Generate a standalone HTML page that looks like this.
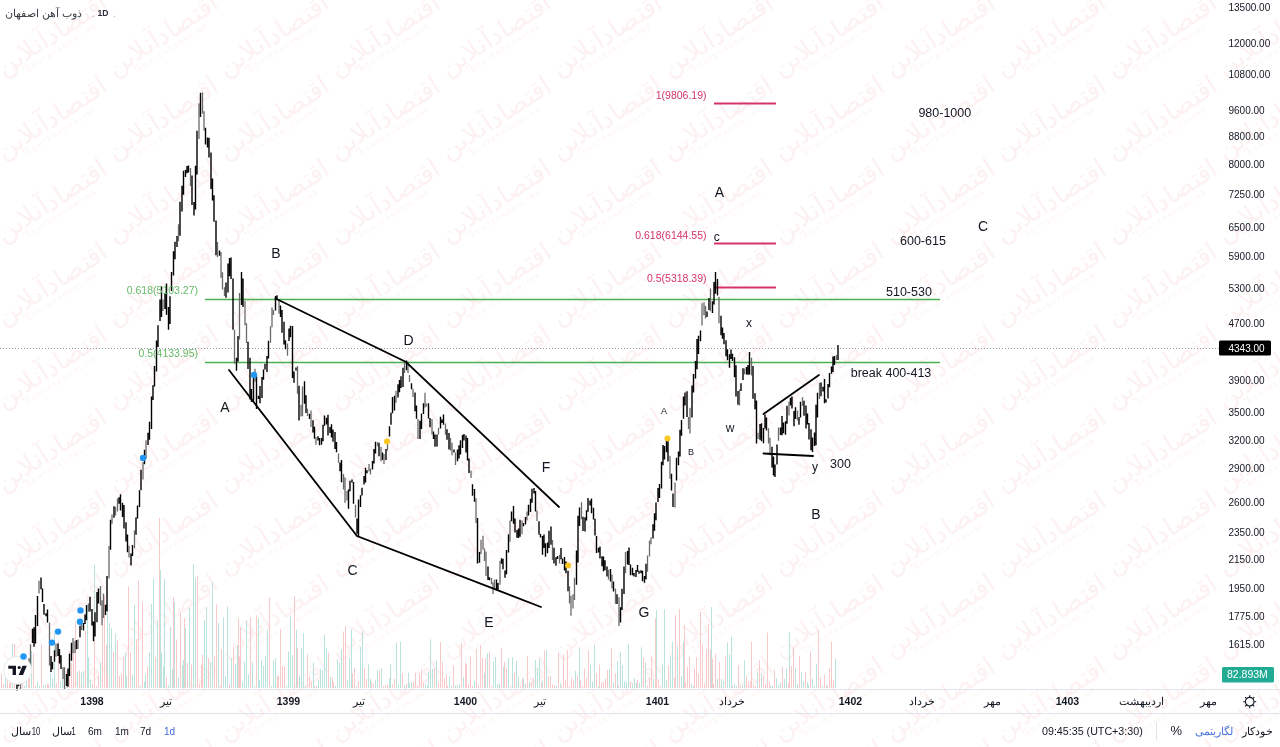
<!DOCTYPE html>
<html><head><meta charset="utf-8">
<style>
html,body{margin:0;padding:0;background:#fff;}
body{width:1280px;height:747px;overflow:hidden;position:relative;font-family:"Liberation Sans",sans-serif;}
svg{position:absolute;left:0;top:0;}
text{font-family:"Liberation Sans",sans-serif;}
</style></head><body>
<svg width="1280" height="747" viewBox="0 0 1280 747">

<rect width="1280" height="747" fill="#fff"/>
<g opacity="0.18" fill="#f2b0b0"><g transform="translate(-55,-41) rotate(-33)"><text x="0" y="0" font-size="26" text-anchor="middle">اقتصادآنلاین</text><text x="2" y="10" font-size="6.5" letter-spacing="1.6" text-anchor="middle">EGHTESADONLINE</text></g><g transform="translate(56,-41) rotate(-33)"><text x="0" y="0" font-size="26" text-anchor="middle">اقتصادآنلاین</text><text x="2" y="10" font-size="6.5" letter-spacing="1.6" text-anchor="middle">EGHTESADONLINE</text></g><g transform="translate(167,-41) rotate(-33)"><text x="0" y="0" font-size="26" text-anchor="middle">اقتصادآنلاین</text><text x="2" y="10" font-size="6.5" letter-spacing="1.6" text-anchor="middle">EGHTESADONLINE</text></g><g transform="translate(278,-41) rotate(-33)"><text x="0" y="0" font-size="26" text-anchor="middle">اقتصادآنلاین</text><text x="2" y="10" font-size="6.5" letter-spacing="1.6" text-anchor="middle">EGHTESADONLINE</text></g><g transform="translate(389,-41) rotate(-33)"><text x="0" y="0" font-size="26" text-anchor="middle">اقتصادآنلاین</text><text x="2" y="10" font-size="6.5" letter-spacing="1.6" text-anchor="middle">EGHTESADONLINE</text></g><g transform="translate(500,-41) rotate(-33)"><text x="0" y="0" font-size="26" text-anchor="middle">اقتصادآنلاین</text><text x="2" y="10" font-size="6.5" letter-spacing="1.6" text-anchor="middle">EGHTESADONLINE</text></g><g transform="translate(611,-41) rotate(-33)"><text x="0" y="0" font-size="26" text-anchor="middle">اقتصادآنلاین</text><text x="2" y="10" font-size="6.5" letter-spacing="1.6" text-anchor="middle">EGHTESADONLINE</text></g><g transform="translate(722,-41) rotate(-33)"><text x="0" y="0" font-size="26" text-anchor="middle">اقتصادآنلاین</text><text x="2" y="10" font-size="6.5" letter-spacing="1.6" text-anchor="middle">EGHTESADONLINE</text></g><g transform="translate(833,-41) rotate(-33)"><text x="0" y="0" font-size="26" text-anchor="middle">اقتصادآنلاین</text><text x="2" y="10" font-size="6.5" letter-spacing="1.6" text-anchor="middle">EGHTESADONLINE</text></g><g transform="translate(944,-41) rotate(-33)"><text x="0" y="0" font-size="26" text-anchor="middle">اقتصادآنلاین</text><text x="2" y="10" font-size="6.5" letter-spacing="1.6" text-anchor="middle">EGHTESADONLINE</text></g><g transform="translate(1055,-41) rotate(-33)"><text x="0" y="0" font-size="26" text-anchor="middle">اقتصادآنلاین</text><text x="2" y="10" font-size="6.5" letter-spacing="1.6" text-anchor="middle">EGHTESADONLINE</text></g><g transform="translate(1166,-41) rotate(-33)"><text x="0" y="0" font-size="26" text-anchor="middle">اقتصادآنلاین</text><text x="2" y="10" font-size="6.5" letter-spacing="1.6" text-anchor="middle">EGHTESADONLINE</text></g><g transform="translate(1277,-41) rotate(-33)"><text x="0" y="0" font-size="26" text-anchor="middle">اقتصادآنلاین</text><text x="2" y="10" font-size="6.5" letter-spacing="1.6" text-anchor="middle">EGHTESADONLINE</text></g><g transform="translate(-55,42) rotate(-33)"><text x="0" y="0" font-size="26" text-anchor="middle">اقتصادآنلاین</text><text x="2" y="10" font-size="6.5" letter-spacing="1.6" text-anchor="middle">EGHTESADONLINE</text></g><g transform="translate(56,42) rotate(-33)"><text x="0" y="0" font-size="26" text-anchor="middle">اقتصادآنلاین</text><text x="2" y="10" font-size="6.5" letter-spacing="1.6" text-anchor="middle">EGHTESADONLINE</text></g><g transform="translate(167,42) rotate(-33)"><text x="0" y="0" font-size="26" text-anchor="middle">اقتصادآنلاین</text><text x="2" y="10" font-size="6.5" letter-spacing="1.6" text-anchor="middle">EGHTESADONLINE</text></g><g transform="translate(278,42) rotate(-33)"><text x="0" y="0" font-size="26" text-anchor="middle">اقتصادآنلاین</text><text x="2" y="10" font-size="6.5" letter-spacing="1.6" text-anchor="middle">EGHTESADONLINE</text></g><g transform="translate(389,42) rotate(-33)"><text x="0" y="0" font-size="26" text-anchor="middle">اقتصادآنلاین</text><text x="2" y="10" font-size="6.5" letter-spacing="1.6" text-anchor="middle">EGHTESADONLINE</text></g><g transform="translate(500,42) rotate(-33)"><text x="0" y="0" font-size="26" text-anchor="middle">اقتصادآنلاین</text><text x="2" y="10" font-size="6.5" letter-spacing="1.6" text-anchor="middle">EGHTESADONLINE</text></g><g transform="translate(611,42) rotate(-33)"><text x="0" y="0" font-size="26" text-anchor="middle">اقتصادآنلاین</text><text x="2" y="10" font-size="6.5" letter-spacing="1.6" text-anchor="middle">EGHTESADONLINE</text></g><g transform="translate(722,42) rotate(-33)"><text x="0" y="0" font-size="26" text-anchor="middle">اقتصادآنلاین</text><text x="2" y="10" font-size="6.5" letter-spacing="1.6" text-anchor="middle">EGHTESADONLINE</text></g><g transform="translate(833,42) rotate(-33)"><text x="0" y="0" font-size="26" text-anchor="middle">اقتصادآنلاین</text><text x="2" y="10" font-size="6.5" letter-spacing="1.6" text-anchor="middle">EGHTESADONLINE</text></g><g transform="translate(944,42) rotate(-33)"><text x="0" y="0" font-size="26" text-anchor="middle">اقتصادآنلاین</text><text x="2" y="10" font-size="6.5" letter-spacing="1.6" text-anchor="middle">EGHTESADONLINE</text></g><g transform="translate(1055,42) rotate(-33)"><text x="0" y="0" font-size="26" text-anchor="middle">اقتصادآنلاین</text><text x="2" y="10" font-size="6.5" letter-spacing="1.6" text-anchor="middle">EGHTESADONLINE</text></g><g transform="translate(1166,42) rotate(-33)"><text x="0" y="0" font-size="26" text-anchor="middle">اقتصادآنلاین</text><text x="2" y="10" font-size="6.5" letter-spacing="1.6" text-anchor="middle">EGHTESADONLINE</text></g><g transform="translate(1277,42) rotate(-33)"><text x="0" y="0" font-size="26" text-anchor="middle">اقتصادآنلاین</text><text x="2" y="10" font-size="6.5" letter-spacing="1.6" text-anchor="middle">EGHTESADONLINE</text></g><g transform="translate(-55,125) rotate(-33)"><text x="0" y="0" font-size="26" text-anchor="middle">اقتصادآنلاین</text><text x="2" y="10" font-size="6.5" letter-spacing="1.6" text-anchor="middle">EGHTESADONLINE</text></g><g transform="translate(56,125) rotate(-33)"><text x="0" y="0" font-size="26" text-anchor="middle">اقتصادآنلاین</text><text x="2" y="10" font-size="6.5" letter-spacing="1.6" text-anchor="middle">EGHTESADONLINE</text></g><g transform="translate(167,125) rotate(-33)"><text x="0" y="0" font-size="26" text-anchor="middle">اقتصادآنلاین</text><text x="2" y="10" font-size="6.5" letter-spacing="1.6" text-anchor="middle">EGHTESADONLINE</text></g><g transform="translate(278,125) rotate(-33)"><text x="0" y="0" font-size="26" text-anchor="middle">اقتصادآنلاین</text><text x="2" y="10" font-size="6.5" letter-spacing="1.6" text-anchor="middle">EGHTESADONLINE</text></g><g transform="translate(389,125) rotate(-33)"><text x="0" y="0" font-size="26" text-anchor="middle">اقتصادآنلاین</text><text x="2" y="10" font-size="6.5" letter-spacing="1.6" text-anchor="middle">EGHTESADONLINE</text></g><g transform="translate(500,125) rotate(-33)"><text x="0" y="0" font-size="26" text-anchor="middle">اقتصادآنلاین</text><text x="2" y="10" font-size="6.5" letter-spacing="1.6" text-anchor="middle">EGHTESADONLINE</text></g><g transform="translate(611,125) rotate(-33)"><text x="0" y="0" font-size="26" text-anchor="middle">اقتصادآنلاین</text><text x="2" y="10" font-size="6.5" letter-spacing="1.6" text-anchor="middle">EGHTESADONLINE</text></g><g transform="translate(722,125) rotate(-33)"><text x="0" y="0" font-size="26" text-anchor="middle">اقتصادآنلاین</text><text x="2" y="10" font-size="6.5" letter-spacing="1.6" text-anchor="middle">EGHTESADONLINE</text></g><g transform="translate(833,125) rotate(-33)"><text x="0" y="0" font-size="26" text-anchor="middle">اقتصادآنلاین</text><text x="2" y="10" font-size="6.5" letter-spacing="1.6" text-anchor="middle">EGHTESADONLINE</text></g><g transform="translate(944,125) rotate(-33)"><text x="0" y="0" font-size="26" text-anchor="middle">اقتصادآنلاین</text><text x="2" y="10" font-size="6.5" letter-spacing="1.6" text-anchor="middle">EGHTESADONLINE</text></g><g transform="translate(1055,125) rotate(-33)"><text x="0" y="0" font-size="26" text-anchor="middle">اقتصادآنلاین</text><text x="2" y="10" font-size="6.5" letter-spacing="1.6" text-anchor="middle">EGHTESADONLINE</text></g><g transform="translate(1166,125) rotate(-33)"><text x="0" y="0" font-size="26" text-anchor="middle">اقتصادآنلاین</text><text x="2" y="10" font-size="6.5" letter-spacing="1.6" text-anchor="middle">EGHTESADONLINE</text></g><g transform="translate(1277,125) rotate(-33)"><text x="0" y="0" font-size="26" text-anchor="middle">اقتصادآنلاین</text><text x="2" y="10" font-size="6.5" letter-spacing="1.6" text-anchor="middle">EGHTESADONLINE</text></g><g transform="translate(-55,208) rotate(-33)"><text x="0" y="0" font-size="26" text-anchor="middle">اقتصادآنلاین</text><text x="2" y="10" font-size="6.5" letter-spacing="1.6" text-anchor="middle">EGHTESADONLINE</text></g><g transform="translate(56,208) rotate(-33)"><text x="0" y="0" font-size="26" text-anchor="middle">اقتصادآنلاین</text><text x="2" y="10" font-size="6.5" letter-spacing="1.6" text-anchor="middle">EGHTESADONLINE</text></g><g transform="translate(167,208) rotate(-33)"><text x="0" y="0" font-size="26" text-anchor="middle">اقتصادآنلاین</text><text x="2" y="10" font-size="6.5" letter-spacing="1.6" text-anchor="middle">EGHTESADONLINE</text></g><g transform="translate(278,208) rotate(-33)"><text x="0" y="0" font-size="26" text-anchor="middle">اقتصادآنلاین</text><text x="2" y="10" font-size="6.5" letter-spacing="1.6" text-anchor="middle">EGHTESADONLINE</text></g><g transform="translate(389,208) rotate(-33)"><text x="0" y="0" font-size="26" text-anchor="middle">اقتصادآنلاین</text><text x="2" y="10" font-size="6.5" letter-spacing="1.6" text-anchor="middle">EGHTESADONLINE</text></g><g transform="translate(500,208) rotate(-33)"><text x="0" y="0" font-size="26" text-anchor="middle">اقتصادآنلاین</text><text x="2" y="10" font-size="6.5" letter-spacing="1.6" text-anchor="middle">EGHTESADONLINE</text></g><g transform="translate(611,208) rotate(-33)"><text x="0" y="0" font-size="26" text-anchor="middle">اقتصادآنلاین</text><text x="2" y="10" font-size="6.5" letter-spacing="1.6" text-anchor="middle">EGHTESADONLINE</text></g><g transform="translate(722,208) rotate(-33)"><text x="0" y="0" font-size="26" text-anchor="middle">اقتصادآنلاین</text><text x="2" y="10" font-size="6.5" letter-spacing="1.6" text-anchor="middle">EGHTESADONLINE</text></g><g transform="translate(833,208) rotate(-33)"><text x="0" y="0" font-size="26" text-anchor="middle">اقتصادآنلاین</text><text x="2" y="10" font-size="6.5" letter-spacing="1.6" text-anchor="middle">EGHTESADONLINE</text></g><g transform="translate(944,208) rotate(-33)"><text x="0" y="0" font-size="26" text-anchor="middle">اقتصادآنلاین</text><text x="2" y="10" font-size="6.5" letter-spacing="1.6" text-anchor="middle">EGHTESADONLINE</text></g><g transform="translate(1055,208) rotate(-33)"><text x="0" y="0" font-size="26" text-anchor="middle">اقتصادآنلاین</text><text x="2" y="10" font-size="6.5" letter-spacing="1.6" text-anchor="middle">EGHTESADONLINE</text></g><g transform="translate(1166,208) rotate(-33)"><text x="0" y="0" font-size="26" text-anchor="middle">اقتصادآنلاین</text><text x="2" y="10" font-size="6.5" letter-spacing="1.6" text-anchor="middle">EGHTESADONLINE</text></g><g transform="translate(1277,208) rotate(-33)"><text x="0" y="0" font-size="26" text-anchor="middle">اقتصادآنلاین</text><text x="2" y="10" font-size="6.5" letter-spacing="1.6" text-anchor="middle">EGHTESADONLINE</text></g><g transform="translate(-55,291) rotate(-33)"><text x="0" y="0" font-size="26" text-anchor="middle">اقتصادآنلاین</text><text x="2" y="10" font-size="6.5" letter-spacing="1.6" text-anchor="middle">EGHTESADONLINE</text></g><g transform="translate(56,291) rotate(-33)"><text x="0" y="0" font-size="26" text-anchor="middle">اقتصادآنلاین</text><text x="2" y="10" font-size="6.5" letter-spacing="1.6" text-anchor="middle">EGHTESADONLINE</text></g><g transform="translate(167,291) rotate(-33)"><text x="0" y="0" font-size="26" text-anchor="middle">اقتصادآنلاین</text><text x="2" y="10" font-size="6.5" letter-spacing="1.6" text-anchor="middle">EGHTESADONLINE</text></g><g transform="translate(278,291) rotate(-33)"><text x="0" y="0" font-size="26" text-anchor="middle">اقتصادآنلاین</text><text x="2" y="10" font-size="6.5" letter-spacing="1.6" text-anchor="middle">EGHTESADONLINE</text></g><g transform="translate(389,291) rotate(-33)"><text x="0" y="0" font-size="26" text-anchor="middle">اقتصادآنلاین</text><text x="2" y="10" font-size="6.5" letter-spacing="1.6" text-anchor="middle">EGHTESADONLINE</text></g><g transform="translate(500,291) rotate(-33)"><text x="0" y="0" font-size="26" text-anchor="middle">اقتصادآنلاین</text><text x="2" y="10" font-size="6.5" letter-spacing="1.6" text-anchor="middle">EGHTESADONLINE</text></g><g transform="translate(611,291) rotate(-33)"><text x="0" y="0" font-size="26" text-anchor="middle">اقتصادآنلاین</text><text x="2" y="10" font-size="6.5" letter-spacing="1.6" text-anchor="middle">EGHTESADONLINE</text></g><g transform="translate(722,291) rotate(-33)"><text x="0" y="0" font-size="26" text-anchor="middle">اقتصادآنلاین</text><text x="2" y="10" font-size="6.5" letter-spacing="1.6" text-anchor="middle">EGHTESADONLINE</text></g><g transform="translate(833,291) rotate(-33)"><text x="0" y="0" font-size="26" text-anchor="middle">اقتصادآنلاین</text><text x="2" y="10" font-size="6.5" letter-spacing="1.6" text-anchor="middle">EGHTESADONLINE</text></g><g transform="translate(944,291) rotate(-33)"><text x="0" y="0" font-size="26" text-anchor="middle">اقتصادآنلاین</text><text x="2" y="10" font-size="6.5" letter-spacing="1.6" text-anchor="middle">EGHTESADONLINE</text></g><g transform="translate(1055,291) rotate(-33)"><text x="0" y="0" font-size="26" text-anchor="middle">اقتصادآنلاین</text><text x="2" y="10" font-size="6.5" letter-spacing="1.6" text-anchor="middle">EGHTESADONLINE</text></g><g transform="translate(1166,291) rotate(-33)"><text x="0" y="0" font-size="26" text-anchor="middle">اقتصادآنلاین</text><text x="2" y="10" font-size="6.5" letter-spacing="1.6" text-anchor="middle">EGHTESADONLINE</text></g><g transform="translate(1277,291) rotate(-33)"><text x="0" y="0" font-size="26" text-anchor="middle">اقتصادآنلاین</text><text x="2" y="10" font-size="6.5" letter-spacing="1.6" text-anchor="middle">EGHTESADONLINE</text></g><g transform="translate(-55,374) rotate(-33)"><text x="0" y="0" font-size="26" text-anchor="middle">اقتصادآنلاین</text><text x="2" y="10" font-size="6.5" letter-spacing="1.6" text-anchor="middle">EGHTESADONLINE</text></g><g transform="translate(56,374) rotate(-33)"><text x="0" y="0" font-size="26" text-anchor="middle">اقتصادآنلاین</text><text x="2" y="10" font-size="6.5" letter-spacing="1.6" text-anchor="middle">EGHTESADONLINE</text></g><g transform="translate(167,374) rotate(-33)"><text x="0" y="0" font-size="26" text-anchor="middle">اقتصادآنلاین</text><text x="2" y="10" font-size="6.5" letter-spacing="1.6" text-anchor="middle">EGHTESADONLINE</text></g><g transform="translate(278,374) rotate(-33)"><text x="0" y="0" font-size="26" text-anchor="middle">اقتصادآنلاین</text><text x="2" y="10" font-size="6.5" letter-spacing="1.6" text-anchor="middle">EGHTESADONLINE</text></g><g transform="translate(389,374) rotate(-33)"><text x="0" y="0" font-size="26" text-anchor="middle">اقتصادآنلاین</text><text x="2" y="10" font-size="6.5" letter-spacing="1.6" text-anchor="middle">EGHTESADONLINE</text></g><g transform="translate(500,374) rotate(-33)"><text x="0" y="0" font-size="26" text-anchor="middle">اقتصادآنلاین</text><text x="2" y="10" font-size="6.5" letter-spacing="1.6" text-anchor="middle">EGHTESADONLINE</text></g><g transform="translate(611,374) rotate(-33)"><text x="0" y="0" font-size="26" text-anchor="middle">اقتصادآنلاین</text><text x="2" y="10" font-size="6.5" letter-spacing="1.6" text-anchor="middle">EGHTESADONLINE</text></g><g transform="translate(722,374) rotate(-33)"><text x="0" y="0" font-size="26" text-anchor="middle">اقتصادآنلاین</text><text x="2" y="10" font-size="6.5" letter-spacing="1.6" text-anchor="middle">EGHTESADONLINE</text></g><g transform="translate(833,374) rotate(-33)"><text x="0" y="0" font-size="26" text-anchor="middle">اقتصادآنلاین</text><text x="2" y="10" font-size="6.5" letter-spacing="1.6" text-anchor="middle">EGHTESADONLINE</text></g><g transform="translate(944,374) rotate(-33)"><text x="0" y="0" font-size="26" text-anchor="middle">اقتصادآنلاین</text><text x="2" y="10" font-size="6.5" letter-spacing="1.6" text-anchor="middle">EGHTESADONLINE</text></g><g transform="translate(1055,374) rotate(-33)"><text x="0" y="0" font-size="26" text-anchor="middle">اقتصادآنلاین</text><text x="2" y="10" font-size="6.5" letter-spacing="1.6" text-anchor="middle">EGHTESADONLINE</text></g><g transform="translate(1166,374) rotate(-33)"><text x="0" y="0" font-size="26" text-anchor="middle">اقتصادآنلاین</text><text x="2" y="10" font-size="6.5" letter-spacing="1.6" text-anchor="middle">EGHTESADONLINE</text></g><g transform="translate(1277,374) rotate(-33)"><text x="0" y="0" font-size="26" text-anchor="middle">اقتصادآنلاین</text><text x="2" y="10" font-size="6.5" letter-spacing="1.6" text-anchor="middle">EGHTESADONLINE</text></g><g transform="translate(-55,457) rotate(-33)"><text x="0" y="0" font-size="26" text-anchor="middle">اقتصادآنلاین</text><text x="2" y="10" font-size="6.5" letter-spacing="1.6" text-anchor="middle">EGHTESADONLINE</text></g><g transform="translate(56,457) rotate(-33)"><text x="0" y="0" font-size="26" text-anchor="middle">اقتصادآنلاین</text><text x="2" y="10" font-size="6.5" letter-spacing="1.6" text-anchor="middle">EGHTESADONLINE</text></g><g transform="translate(167,457) rotate(-33)"><text x="0" y="0" font-size="26" text-anchor="middle">اقتصادآنلاین</text><text x="2" y="10" font-size="6.5" letter-spacing="1.6" text-anchor="middle">EGHTESADONLINE</text></g><g transform="translate(278,457) rotate(-33)"><text x="0" y="0" font-size="26" text-anchor="middle">اقتصادآنلاین</text><text x="2" y="10" font-size="6.5" letter-spacing="1.6" text-anchor="middle">EGHTESADONLINE</text></g><g transform="translate(389,457) rotate(-33)"><text x="0" y="0" font-size="26" text-anchor="middle">اقتصادآنلاین</text><text x="2" y="10" font-size="6.5" letter-spacing="1.6" text-anchor="middle">EGHTESADONLINE</text></g><g transform="translate(500,457) rotate(-33)"><text x="0" y="0" font-size="26" text-anchor="middle">اقتصادآنلاین</text><text x="2" y="10" font-size="6.5" letter-spacing="1.6" text-anchor="middle">EGHTESADONLINE</text></g><g transform="translate(611,457) rotate(-33)"><text x="0" y="0" font-size="26" text-anchor="middle">اقتصادآنلاین</text><text x="2" y="10" font-size="6.5" letter-spacing="1.6" text-anchor="middle">EGHTESADONLINE</text></g><g transform="translate(722,457) rotate(-33)"><text x="0" y="0" font-size="26" text-anchor="middle">اقتصادآنلاین</text><text x="2" y="10" font-size="6.5" letter-spacing="1.6" text-anchor="middle">EGHTESADONLINE</text></g><g transform="translate(833,457) rotate(-33)"><text x="0" y="0" font-size="26" text-anchor="middle">اقتصادآنلاین</text><text x="2" y="10" font-size="6.5" letter-spacing="1.6" text-anchor="middle">EGHTESADONLINE</text></g><g transform="translate(944,457) rotate(-33)"><text x="0" y="0" font-size="26" text-anchor="middle">اقتصادآنلاین</text><text x="2" y="10" font-size="6.5" letter-spacing="1.6" text-anchor="middle">EGHTESADONLINE</text></g><g transform="translate(1055,457) rotate(-33)"><text x="0" y="0" font-size="26" text-anchor="middle">اقتصادآنلاین</text><text x="2" y="10" font-size="6.5" letter-spacing="1.6" text-anchor="middle">EGHTESADONLINE</text></g><g transform="translate(1166,457) rotate(-33)"><text x="0" y="0" font-size="26" text-anchor="middle">اقتصادآنلاین</text><text x="2" y="10" font-size="6.5" letter-spacing="1.6" text-anchor="middle">EGHTESADONLINE</text></g><g transform="translate(1277,457) rotate(-33)"><text x="0" y="0" font-size="26" text-anchor="middle">اقتصادآنلاین</text><text x="2" y="10" font-size="6.5" letter-spacing="1.6" text-anchor="middle">EGHTESADONLINE</text></g><g transform="translate(-55,540) rotate(-33)"><text x="0" y="0" font-size="26" text-anchor="middle">اقتصادآنلاین</text><text x="2" y="10" font-size="6.5" letter-spacing="1.6" text-anchor="middle">EGHTESADONLINE</text></g><g transform="translate(56,540) rotate(-33)"><text x="0" y="0" font-size="26" text-anchor="middle">اقتصادآنلاین</text><text x="2" y="10" font-size="6.5" letter-spacing="1.6" text-anchor="middle">EGHTESADONLINE</text></g><g transform="translate(167,540) rotate(-33)"><text x="0" y="0" font-size="26" text-anchor="middle">اقتصادآنلاین</text><text x="2" y="10" font-size="6.5" letter-spacing="1.6" text-anchor="middle">EGHTESADONLINE</text></g><g transform="translate(278,540) rotate(-33)"><text x="0" y="0" font-size="26" text-anchor="middle">اقتصادآنلاین</text><text x="2" y="10" font-size="6.5" letter-spacing="1.6" text-anchor="middle">EGHTESADONLINE</text></g><g transform="translate(389,540) rotate(-33)"><text x="0" y="0" font-size="26" text-anchor="middle">اقتصادآنلاین</text><text x="2" y="10" font-size="6.5" letter-spacing="1.6" text-anchor="middle">EGHTESADONLINE</text></g><g transform="translate(500,540) rotate(-33)"><text x="0" y="0" font-size="26" text-anchor="middle">اقتصادآنلاین</text><text x="2" y="10" font-size="6.5" letter-spacing="1.6" text-anchor="middle">EGHTESADONLINE</text></g><g transform="translate(611,540) rotate(-33)"><text x="0" y="0" font-size="26" text-anchor="middle">اقتصادآنلاین</text><text x="2" y="10" font-size="6.5" letter-spacing="1.6" text-anchor="middle">EGHTESADONLINE</text></g><g transform="translate(722,540) rotate(-33)"><text x="0" y="0" font-size="26" text-anchor="middle">اقتصادآنلاین</text><text x="2" y="10" font-size="6.5" letter-spacing="1.6" text-anchor="middle">EGHTESADONLINE</text></g><g transform="translate(833,540) rotate(-33)"><text x="0" y="0" font-size="26" text-anchor="middle">اقتصادآنلاین</text><text x="2" y="10" font-size="6.5" letter-spacing="1.6" text-anchor="middle">EGHTESADONLINE</text></g><g transform="translate(944,540) rotate(-33)"><text x="0" y="0" font-size="26" text-anchor="middle">اقتصادآنلاین</text><text x="2" y="10" font-size="6.5" letter-spacing="1.6" text-anchor="middle">EGHTESADONLINE</text></g><g transform="translate(1055,540) rotate(-33)"><text x="0" y="0" font-size="26" text-anchor="middle">اقتصادآنلاین</text><text x="2" y="10" font-size="6.5" letter-spacing="1.6" text-anchor="middle">EGHTESADONLINE</text></g><g transform="translate(1166,540) rotate(-33)"><text x="0" y="0" font-size="26" text-anchor="middle">اقتصادآنلاین</text><text x="2" y="10" font-size="6.5" letter-spacing="1.6" text-anchor="middle">EGHTESADONLINE</text></g><g transform="translate(1277,540) rotate(-33)"><text x="0" y="0" font-size="26" text-anchor="middle">اقتصادآنلاین</text><text x="2" y="10" font-size="6.5" letter-spacing="1.6" text-anchor="middle">EGHTESADONLINE</text></g><g transform="translate(-55,623) rotate(-33)"><text x="0" y="0" font-size="26" text-anchor="middle">اقتصادآنلاین</text><text x="2" y="10" font-size="6.5" letter-spacing="1.6" text-anchor="middle">EGHTESADONLINE</text></g><g transform="translate(56,623) rotate(-33)"><text x="0" y="0" font-size="26" text-anchor="middle">اقتصادآنلاین</text><text x="2" y="10" font-size="6.5" letter-spacing="1.6" text-anchor="middle">EGHTESADONLINE</text></g><g transform="translate(167,623) rotate(-33)"><text x="0" y="0" font-size="26" text-anchor="middle">اقتصادآنلاین</text><text x="2" y="10" font-size="6.5" letter-spacing="1.6" text-anchor="middle">EGHTESADONLINE</text></g><g transform="translate(278,623) rotate(-33)"><text x="0" y="0" font-size="26" text-anchor="middle">اقتصادآنلاین</text><text x="2" y="10" font-size="6.5" letter-spacing="1.6" text-anchor="middle">EGHTESADONLINE</text></g><g transform="translate(389,623) rotate(-33)"><text x="0" y="0" font-size="26" text-anchor="middle">اقتصادآنلاین</text><text x="2" y="10" font-size="6.5" letter-spacing="1.6" text-anchor="middle">EGHTESADONLINE</text></g><g transform="translate(500,623) rotate(-33)"><text x="0" y="0" font-size="26" text-anchor="middle">اقتصادآنلاین</text><text x="2" y="10" font-size="6.5" letter-spacing="1.6" text-anchor="middle">EGHTESADONLINE</text></g><g transform="translate(611,623) rotate(-33)"><text x="0" y="0" font-size="26" text-anchor="middle">اقتصادآنلاین</text><text x="2" y="10" font-size="6.5" letter-spacing="1.6" text-anchor="middle">EGHTESADONLINE</text></g><g transform="translate(722,623) rotate(-33)"><text x="0" y="0" font-size="26" text-anchor="middle">اقتصادآنلاین</text><text x="2" y="10" font-size="6.5" letter-spacing="1.6" text-anchor="middle">EGHTESADONLINE</text></g><g transform="translate(833,623) rotate(-33)"><text x="0" y="0" font-size="26" text-anchor="middle">اقتصادآنلاین</text><text x="2" y="10" font-size="6.5" letter-spacing="1.6" text-anchor="middle">EGHTESADONLINE</text></g><g transform="translate(944,623) rotate(-33)"><text x="0" y="0" font-size="26" text-anchor="middle">اقتصادآنلاین</text><text x="2" y="10" font-size="6.5" letter-spacing="1.6" text-anchor="middle">EGHTESADONLINE</text></g><g transform="translate(1055,623) rotate(-33)"><text x="0" y="0" font-size="26" text-anchor="middle">اقتصادآنلاین</text><text x="2" y="10" font-size="6.5" letter-spacing="1.6" text-anchor="middle">EGHTESADONLINE</text></g><g transform="translate(1166,623) rotate(-33)"><text x="0" y="0" font-size="26" text-anchor="middle">اقتصادآنلاین</text><text x="2" y="10" font-size="6.5" letter-spacing="1.6" text-anchor="middle">EGHTESADONLINE</text></g><g transform="translate(1277,623) rotate(-33)"><text x="0" y="0" font-size="26" text-anchor="middle">اقتصادآنلاین</text><text x="2" y="10" font-size="6.5" letter-spacing="1.6" text-anchor="middle">EGHTESADONLINE</text></g><g transform="translate(-55,706) rotate(-33)"><text x="0" y="0" font-size="26" text-anchor="middle">اقتصادآنلاین</text><text x="2" y="10" font-size="6.5" letter-spacing="1.6" text-anchor="middle">EGHTESADONLINE</text></g><g transform="translate(56,706) rotate(-33)"><text x="0" y="0" font-size="26" text-anchor="middle">اقتصادآنلاین</text><text x="2" y="10" font-size="6.5" letter-spacing="1.6" text-anchor="middle">EGHTESADONLINE</text></g><g transform="translate(167,706) rotate(-33)"><text x="0" y="0" font-size="26" text-anchor="middle">اقتصادآنلاین</text><text x="2" y="10" font-size="6.5" letter-spacing="1.6" text-anchor="middle">EGHTESADONLINE</text></g><g transform="translate(278,706) rotate(-33)"><text x="0" y="0" font-size="26" text-anchor="middle">اقتصادآنلاین</text><text x="2" y="10" font-size="6.5" letter-spacing="1.6" text-anchor="middle">EGHTESADONLINE</text></g><g transform="translate(389,706) rotate(-33)"><text x="0" y="0" font-size="26" text-anchor="middle">اقتصادآنلاین</text><text x="2" y="10" font-size="6.5" letter-spacing="1.6" text-anchor="middle">EGHTESADONLINE</text></g><g transform="translate(500,706) rotate(-33)"><text x="0" y="0" font-size="26" text-anchor="middle">اقتصادآنلاین</text><text x="2" y="10" font-size="6.5" letter-spacing="1.6" text-anchor="middle">EGHTESADONLINE</text></g><g transform="translate(611,706) rotate(-33)"><text x="0" y="0" font-size="26" text-anchor="middle">اقتصادآنلاین</text><text x="2" y="10" font-size="6.5" letter-spacing="1.6" text-anchor="middle">EGHTESADONLINE</text></g><g transform="translate(722,706) rotate(-33)"><text x="0" y="0" font-size="26" text-anchor="middle">اقتصادآنلاین</text><text x="2" y="10" font-size="6.5" letter-spacing="1.6" text-anchor="middle">EGHTESADONLINE</text></g><g transform="translate(833,706) rotate(-33)"><text x="0" y="0" font-size="26" text-anchor="middle">اقتصادآنلاین</text><text x="2" y="10" font-size="6.5" letter-spacing="1.6" text-anchor="middle">EGHTESADONLINE</text></g><g transform="translate(944,706) rotate(-33)"><text x="0" y="0" font-size="26" text-anchor="middle">اقتصادآنلاین</text><text x="2" y="10" font-size="6.5" letter-spacing="1.6" text-anchor="middle">EGHTESADONLINE</text></g><g transform="translate(1055,706) rotate(-33)"><text x="0" y="0" font-size="26" text-anchor="middle">اقتصادآنلاین</text><text x="2" y="10" font-size="6.5" letter-spacing="1.6" text-anchor="middle">EGHTESADONLINE</text></g><g transform="translate(1166,706) rotate(-33)"><text x="0" y="0" font-size="26" text-anchor="middle">اقتصادآنلاین</text><text x="2" y="10" font-size="6.5" letter-spacing="1.6" text-anchor="middle">EGHTESADONLINE</text></g><g transform="translate(1277,706) rotate(-33)"><text x="0" y="0" font-size="26" text-anchor="middle">اقتصادآنلاین</text><text x="2" y="10" font-size="6.5" letter-spacing="1.6" text-anchor="middle">EGHTESADONLINE</text></g><g transform="translate(-55,789) rotate(-33)"><text x="0" y="0" font-size="26" text-anchor="middle">اقتصادآنلاین</text><text x="2" y="10" font-size="6.5" letter-spacing="1.6" text-anchor="middle">EGHTESADONLINE</text></g><g transform="translate(56,789) rotate(-33)"><text x="0" y="0" font-size="26" text-anchor="middle">اقتصادآنلاین</text><text x="2" y="10" font-size="6.5" letter-spacing="1.6" text-anchor="middle">EGHTESADONLINE</text></g><g transform="translate(167,789) rotate(-33)"><text x="0" y="0" font-size="26" text-anchor="middle">اقتصادآنلاین</text><text x="2" y="10" font-size="6.5" letter-spacing="1.6" text-anchor="middle">EGHTESADONLINE</text></g><g transform="translate(278,789) rotate(-33)"><text x="0" y="0" font-size="26" text-anchor="middle">اقتصادآنلاین</text><text x="2" y="10" font-size="6.5" letter-spacing="1.6" text-anchor="middle">EGHTESADONLINE</text></g><g transform="translate(389,789) rotate(-33)"><text x="0" y="0" font-size="26" text-anchor="middle">اقتصادآنلاین</text><text x="2" y="10" font-size="6.5" letter-spacing="1.6" text-anchor="middle">EGHTESADONLINE</text></g><g transform="translate(500,789) rotate(-33)"><text x="0" y="0" font-size="26" text-anchor="middle">اقتصادآنلاین</text><text x="2" y="10" font-size="6.5" letter-spacing="1.6" text-anchor="middle">EGHTESADONLINE</text></g><g transform="translate(611,789) rotate(-33)"><text x="0" y="0" font-size="26" text-anchor="middle">اقتصادآنلاین</text><text x="2" y="10" font-size="6.5" letter-spacing="1.6" text-anchor="middle">EGHTESADONLINE</text></g><g transform="translate(722,789) rotate(-33)"><text x="0" y="0" font-size="26" text-anchor="middle">اقتصادآنلاین</text><text x="2" y="10" font-size="6.5" letter-spacing="1.6" text-anchor="middle">EGHTESADONLINE</text></g><g transform="translate(833,789) rotate(-33)"><text x="0" y="0" font-size="26" text-anchor="middle">اقتصادآنلاین</text><text x="2" y="10" font-size="6.5" letter-spacing="1.6" text-anchor="middle">EGHTESADONLINE</text></g><g transform="translate(944,789) rotate(-33)"><text x="0" y="0" font-size="26" text-anchor="middle">اقتصادآنلاین</text><text x="2" y="10" font-size="6.5" letter-spacing="1.6" text-anchor="middle">EGHTESADONLINE</text></g><g transform="translate(1055,789) rotate(-33)"><text x="0" y="0" font-size="26" text-anchor="middle">اقتصادآنلاین</text><text x="2" y="10" font-size="6.5" letter-spacing="1.6" text-anchor="middle">EGHTESADONLINE</text></g><g transform="translate(1166,789) rotate(-33)"><text x="0" y="0" font-size="26" text-anchor="middle">اقتصادآنلاین</text><text x="2" y="10" font-size="6.5" letter-spacing="1.6" text-anchor="middle">EGHTESADONLINE</text></g><g transform="translate(1277,789) rotate(-33)"><text x="0" y="0" font-size="26" text-anchor="middle">اقتصادآنلاین</text><text x="2" y="10" font-size="6.5" letter-spacing="1.6" text-anchor="middle">EGHTESADONLINE</text></g></g>
<path d="M5.5 688V668.0M12.5 688V644.2M16.5 688V680.2M24.5 688V685.7M26.5 688V662.7M31.5 688V651.2M37.5 688V682.2M39.5 688V685.6M43.5 688V685.2M45.5 688V684.8M50.5 688V672.7M52.5 688V678.4M54.5 688V632.8M60.5 688V681.0M62.5 688V678.2M67.5 688V673.6M77.5 688V671.7M81.5 688V672.3M83.5 688V671.1M87.5 688V604.6M88.5 688V657.8M90.5 688V679.2M100.5 688V662.5M109.5 688V622.7M111.5 688V628.2M115.5 688V633.7M125.5 688V652.6M126.5 688V676.0M132.5 688V674.9M134.5 688V605.2M140.5 688V685.9M144.5 688V681.7M145.5 688V674.1M149.5 688V652.6M151.5 688V683.6M153.5 688V578.2M157.5 688V619.7M159.5 688V633.3M161.5 688V652.7M163.5 688V665.8M164.5 688V665.0M168.5 688V685.1M170.5 688V627.2M172.5 688V669.2M174.5 688V601.8M178.5 688V677.2M182.5 688V665.7M183.5 688V660.0M185.5 688V628.2M189.5 688V608.1M193.5 688V563.8M195.5 688V577.4M197.5 688V635.4M204.5 688V620.1M206.5 688V644.9M210.5 688V662.3M212.5 688V581.9M218.5 688V623.3M223.5 688V617.5M225.5 688V676.0M227.5 688V606.4M231.5 688V658.1M235.5 688V664.3M237.5 688V645.7M242.5 688V682.3M244.5 688V661.7M246.5 688V620.6M248.5 688V674.5M252.5 688V662.2M254.5 688V686.0M258.5 688V618.1M259.5 688V679.9M261.5 688V660.3M263.5 688V665.5M265.5 688V656.4M267.5 688V629.8M271.5 688V686.0M273.5 688V660.6M275.5 688V658.0M286.5 688V685.9M288.5 688V651.3M290.5 688V616.5M292.5 688V655.3M296.5 688V629.9M299.5 688V675.4M301.5 688V647.9M303.5 688V633.0M305.5 688V685.7M313.5 688V662.5M318.5 688V680.4M320.5 688V668.8M322.5 688V669.9M324.5 688V634.6M326.5 688V647.5M330.5 688V677.1M335.5 688V685.8M337.5 688V659.3M339.5 688V663.0M341.5 688V649.2M347.5 688V680.4M349.5 688V657.5M351.5 688V629.6M356.5 688V686.0M360.5 688V646.9M362.5 688V631.1M368.5 688V664.5M370.5 688V679.1M375.5 688V680.2M377.5 688V670.0M381.5 688V668.1M389.5 688V678.4M390.5 688V664.1M396.5 688V642.5M398.5 688V684.4M400.5 688V641.5M404.5 688V685.2M408.5 688V672.5M409.5 688V683.2M411.5 688V683.0M425.5 688V684.3M427.5 688V686.0M428.5 688V671.9M430.5 688V639.3M432.5 688V669.0M436.5 688V660.7M449.5 688V676.3M451.5 688V686.0M455.5 688V685.2M457.5 688V685.4M459.5 688V683.8M463.5 688V676.9M474.5 688V680.7M484.5 688V672.8M487.5 688V653.2M493.5 688V661.7M495.5 688V657.0M497.5 688V684.2M499.5 688V683.4M503.5 688V666.9M508.5 688V658.3M512.5 688V657.2M516.5 688V661.2M518.5 688V676.6M523.5 688V677.6M525.5 688V683.9M529.5 688V682.1M535.5 688V660.0M537.5 688V668.5M539.5 688V658.6M542.5 688V680.3M546.5 688V649.9M556.5 688V686.0M560.5 688V683.1M575.5 688V671.0M579.5 688V647.6M590.5 688V664.4M592.5 688V681.3M594.5 688V645.0M598.5 688V686.0M609.5 688V668.8M613.5 688V682.5M617.5 688V661.2M620.5 688V652.3M622.5 688V665.2M624.5 688V681.6M626.5 688V682.0M628.5 688V643.7M632.5 688V684.3M634.5 688V678.2M636.5 688V682.9M639.5 688V682.7M641.5 688V647.3M645.5 688V662.4M653.5 688V679.0M662.5 688V664.6M664.5 688V609.3M666.5 688V680.2M670.5 688V656.3M672.5 688V641.8M677.5 688V646.3M681.5 688V676.3M683.5 688V642.1M691.5 688V684.0M693.5 688V686.0M717.5 688V679.0M721.5 688V679.1M723.5 688V680.9M727.5 688V642.6M729.5 688V654.3M731.5 688V636.9M734.5 688V683.8M736.5 688V686.0M742.5 688V684.7M744.5 688V660.2M757.5 688V672.6M761.5 688V673.9M770.5 688V686.0M772.5 688V685.7M776.5 688V678.3M778.5 688V684.6M780.5 688V682.7M784.5 688V678.8M786.5 688V668.5M795.5 688V667.7M797.5 688V684.3M801.5 688V672.1M803.5 688V681.0M807.5 688V682.2M808.5 688V684.9M812.5 688V678.3M814.5 688V686.0M816.5 688V664.0M822.5 688V685.8M826.5 688V684.2M835.5 688V658.5M94.5 688V565.0M160.5 688V570.0M164.5 688V579.0M195.5 688V600.0M206.5 688V607.0M107.5 688V602.0M151.5 688V604.0M656.5 688V610.0M711.5 688V607.0M789.5 688V632.0" stroke="#b9e3dc" stroke-width="1" fill="none"/><path d="M1.5 688V673.4M3.5 688V684.1M7.5 688V669.0M9.5 688V682.8M10.5 688V678.2M14.5 688V644.1M18.5 688V685.4M20.5 688V686.0M22.5 688V684.4M28.5 688V678.9M29.5 688V660.3M33.5 688V653.4M35.5 688V686.0M41.5 688V644.4M47.5 688V683.7M48.5 688V684.5M56.5 688V682.7M58.5 688V640.8M64.5 688V686.0M66.5 688V671.2M69.5 688V650.7M71.5 688V662.9M73.5 688V650.5M75.5 688V621.7M79.5 688V670.6M85.5 688V630.8M92.5 688V684.0M94.5 688V639.0M96.5 688V686.0M98.5 688V675.5M102.5 688V613.0M104.5 688V595.8M106.5 688V644.9M107.5 688V675.2M113.5 688V652.1M117.5 688V640.4M119.5 688V675.9M121.5 688V673.2M123.5 688V657.2M128.5 688V586.6M130.5 688V652.0M136.5 688V638.9M138.5 688V580.3M142.5 688V602.3M147.5 688V666.8M155.5 688V656.8M166.5 688V677.2M176.5 688V639.5M180.5 688V612.6M187.5 688V662.8M191.5 688V664.6M199.5 688V684.5M201.5 688V665.1M202.5 688V655.1M208.5 688V658.2M214.5 688V655.6M216.5 688V604.4M220.5 688V686.0M221.5 688V649.3M229.5 688V683.6M233.5 688V646.9M239.5 688V656.4M240.5 688V626.9M250.5 688V617.5M256.5 688V615.4M269.5 688V597.4M277.5 688V676.5M278.5 688V675.6M280.5 688V629.6M282.5 688V666.2M284.5 688V666.8M294.5 688V596.0M297.5 688V647.7M307.5 688V654.3M309.5 688V676.2M311.5 688V681.4M314.5 688V686.0M316.5 688V686.0M328.5 688V652.7M332.5 688V677.5M333.5 688V682.4M343.5 688V631.5M345.5 688V626.3M352.5 688V673.4M354.5 688V668.0M358.5 688V681.0M364.5 688V667.9M366.5 688V678.7M371.5 688V681.7M373.5 688V683.7M379.5 688V670.4M383.5 688V686.0M385.5 688V685.7M387.5 688V684.9M392.5 688V683.9M394.5 688V679.1M402.5 688V672.9M406.5 688V684.1M413.5 688V682.0M415.5 688V672.7M417.5 688V686.0M419.5 688V673.3M421.5 688V669.4M423.5 688V682.3M434.5 688V668.1M438.5 688V681.8M440.5 688V641.8M442.5 688V662.1M444.5 688V678.8M446.5 688V674.4M447.5 688V686.0M453.5 688V665.5M461.5 688V643.0M465.5 688V662.3M466.5 688V664.3M468.5 688V684.2M470.5 688V656.2M472.5 688V686.0M476.5 688V648.9M478.5 688V685.5M480.5 688V644.7M482.5 688V657.6M485.5 688V658.4M489.5 688V651.4M491.5 688V685.9M501.5 688V647.4M504.5 688V662.0M506.5 688V668.5M510.5 688V686.0M514.5 688V672.6M520.5 688V686.0M522.5 688V678.8M527.5 688V656.4M531.5 688V682.6M533.5 688V678.1M541.5 688V682.6M544.5 688V650.5M548.5 688V676.2M550.5 688V676.0M552.5 688V684.4M554.5 688V685.0M558.5 688V652.8M561.5 688V686.0M563.5 688V654.3M565.5 688V680.0M567.5 688V649.9M569.5 688V686.0M571.5 688V678.0M573.5 688V680.4M577.5 688V675.4M580.5 688V680.3M582.5 688V686.0M584.5 688V668.4M586.5 688V677.9M588.5 688V650.3M596.5 688V672.9M599.5 688V664.6M601.5 688V682.4M603.5 688V682.1M605.5 688V678.7M607.5 688V670.2M611.5 688V648.2M615.5 688V673.4M618.5 688V685.4M630.5 688V681.7M637.5 688V679.7M643.5 688V657.2M647.5 688V685.2M649.5 688V677.2M651.5 688V656.9M655.5 688V618.1M656.5 688V678.5M658.5 688V679.6M660.5 688V686.0M668.5 688V665.7M674.5 688V677.7M675.5 688V615.4M679.5 688V609.1M685.5 688V682.2M687.5 688V666.8M689.5 688V657.0M694.5 688V668.5M696.5 688V657.1M698.5 688V673.5M700.5 688V679.0M702.5 688V644.5M704.5 688V683.4M706.5 688V648.7M708.5 688V624.0M710.5 688V650.0M712.5 688V658.7M713.5 688V684.1M715.5 688V653.9M719.5 688V662.1M725.5 688V656.4M732.5 688V686.0M738.5 688V665.3M740.5 688V686.0M746.5 688V676.7M748.5 688V681.1M750.5 688V681.4M751.5 688V641.7M753.5 688V686.0M755.5 688V686.0M759.5 688V660.2M763.5 688V676.5M765.5 688V683.9M767.5 688V632.7M769.5 688V681.6M774.5 688V669.6M782.5 688V666.7M788.5 688V683.1M789.5 688V668.7M791.5 688V666.0M793.5 688V647.6M799.5 688V656.1M805.5 688V672.0M810.5 688V651.3M818.5 688V630.1M820.5 688V677.7M824.5 688V674.7M827.5 688V686.0M829.5 688V668.2M831.5 688V641.5M833.5 688V680.2M159.5 688V518.0M173.5 688V597.0M197.5 688V576.0M184.5 688V618.0M238.5 688V618.0M700.5 688V612.0M684.5 688V625.0" stroke="#f7c9c9" stroke-width="1" fill="none"/>
<!-- dotted last price line -->
<line x1="0" y1="348.5" x2="1219" y2="348.5" stroke="#9598a1" stroke-width="1" stroke-dasharray="1 2"/>
<!-- green fib lines -->
<line x1="205" y1="299.5" x2="940" y2="299.5" stroke="#4caf50" stroke-width="1.6"/>
<line x1="205" y1="362.5" x2="940" y2="362.5" stroke="#4caf50" stroke-width="1.6"/>
<!-- red fib lines -->
<line x1="714" y1="103.5" x2="776" y2="103.5" stroke="#d6336c" stroke-width="1.8"/>
<line x1="714" y1="243.5" x2="776" y2="243.5" stroke="#d6336c" stroke-width="1.8"/>
<line x1="714" y1="287.5" x2="776" y2="287.5" stroke="#d6336c" stroke-width="1.8"/>
<path d="M20.5 679.8V689.8M29.0 658.2V670.0M30.5 644.3V665.9M39.0 580.7V593.5M49.5 622.4V665.4M56.0 643.4V656.8M63.0 667.3V678.9M64.5 667.3V689.1M73.0 638.1V653.2M75.0 641.1V653.0M78.0 639.6V648.9M81.5 621.6V630.1M88.5 603.5V611.7M100.5 585.9V605.4M102.0 600.2V625.2M103.5 593.6V618.1M109.0 546.1V578.4M112.0 514.5V523.7M115.5 506.8V515.4M117.5 498.4V511.4M129.0 545.8V557.4M134.5 530.5V548.3M143.0 462.0V479.5M146.0 440.2V459.1M163.0 299.6V310.9M178.5 224.3V241.2M190.5 167.9V186.0M199.0 103.6V139.0M202.5 92.4V113.6M204.0 111.3V130.5M217.5 242.1V256.9M221.0 251.9V278.1M222.5 272.3V289.6M224.5 287.2V296.1M234.5 329.8V363.8M239.5 292.9V339.4M245.0 300.7V325.2M246.5 323.2V343.1M255.0 368.7V381.7M270.5 326.3V342.7M272.0 307.6V327.2M273.5 310.0V315.1M279.0 300.3V313.7M287.5 343.4V355.8M297.5 366.0V393.7M301.0 404.8V416.4M302.5 386.6V416.2M307.5 408.8V416.0M311.0 410.4V427.0M316.0 436.9V444.7M338.5 453.4V462.8M343.5 473.9V489.5M345.0 477.5V502.8M347.0 491.0V500.4M355.5 504.7V517.4M369.0 463.9V471.5M370.5 468.6V474.4M377.5 442.2V446.3M381.0 446.8V461.2M384.0 454.1V464.0M387.5 440.4V450.6M396.0 390.7V402.8M404.5 362.4V373.1M408.0 361.5V373.0M409.5 375.1V382.0M413.0 388.7V396.9M418.0 419.0V438.9M425.0 392.8V407.4M426.5 403.4V406.5M432.0 419.1V434.4M438.5 427.7V434.5M445.5 423.6V434.7M450.5 437.9V450.5M452.0 442.8V455.3M455.5 452.6V464.9M471.0 470.4V478.1M476.0 498.3V523.1M481.0 539.8V554.1M483.0 535.8V549.4M484.5 548.6V560.9M486.0 551.6V576.0M491.5 578.1V584.3M493.0 582.4V594.0M494.5 579.5V588.8M500.0 560.8V584.8M510.0 520.4V541.7M522.0 520.5V534.3M527.0 511.5V520.3M537.0 510.5V520.9M552.5 540.1V560.1M559.5 554.8V563.4M569.5 586.2V603.6M571.0 595.7V615.8M573.0 594.3V608.6M574.5 577.8V600.0M581.5 502.3V519.3M608.5 569.7V579.4M612.0 574.5V588.4M615.5 588.5V603.8M619.0 597.2V626.0M625.5 551.9V573.3M647.5 555.4V571.7M649.5 540.4V556.6M651.0 537.2V544.3M670.0 455.8V478.8M675.0 482.6V507.6M688.5 417.1V429.1M690.0 407.7V433.5M702.0 303.2V325.6M704.0 302.2V315.3M705.5 306.0V318.4M710.5 288.4V311.2M719.0 296.7V323.3M739.5 389.4V405.6M744.5 368.5V374.3M751.5 357.8V375.5M758.0 432.7V439.0M768.5 428.3V443.4M770.0 437.7V455.2M778.5 427.4V440.7M789.0 401.5V415.4M797.5 410.6V420.5M802.5 397.2V406.0M819.5 382.7V398.9M836.5 355.1V360.1" stroke="#6a6a6a" stroke-width="1.3" fill="none"/><path d="M17.0 683.6V690.4M18.5 683.1V686.1M22.0 670.4V683.2M24.0 675.9V681.2M25.5 671.8V674.9M27.0 664.5V673.1M32.5 628.8V643.1M34.0 627.3V646.7M35.5 615.1V643.4M37.5 596.0V626.0M41.0 577.4V589.2M42.5 588.5V602.0M44.0 604.1V614.8M46.0 613.2V616.2M47.5 609.6V622.6M51.0 656.1V672.1M52.5 662.1V669.3M54.5 650.2V661.7M58.0 643.5V656.0M59.5 648.9V663.6M61.0 655.2V669.1M66.5 674.0V686.1M68.0 668.5V686.7M69.5 653.7V676.0M71.5 642.7V660.7M76.5 640.0V649.2M80.0 625.7V637.3M83.5 623.1V630.5M85.0 614.6V623.9M86.5 604.9V620.2M90.0 596.7V611.4M92.0 609.0V625.4M93.5 621.6V641.3M95.0 612.3V636.4M97.0 591.9V622.2M98.5 588.5V603.4M105.5 604.8V615.0M107.0 576.1V611.3M110.5 519.7V549.7M114.0 506.2V517.8M119.0 497.3V503.8M120.5 494.2V510.5M122.5 502.8V517.1M124.0 505.1V528.4M126.0 522.2V541.6M127.5 534.5V552.2M131.0 553.5V565.5M132.5 545.1V556.1M136.0 517.4V534.8M137.5 505.4V518.6M139.5 490.3V506.9M141.0 469.8V490.3M144.5 449.7V464.3M148.0 432.8V445.1M149.5 421.8V439.8M151.5 396.4V429.1M153.0 385.3V400.1M154.5 366.1V386.6M156.5 340.6V371.5M158.0 325.2V347.1M160.0 299.6V321.1M161.5 286.3V316.9M165.0 293.3V309.0M166.5 283.6V314.7M168.5 307.0V329.8M170.0 296.2V324.1M171.5 272.1V291.1M173.5 251.3V275.6M175.0 241.8V259.3M177.0 236.1V247.0M180.0 201.7V235.8M182.0 185.7V211.4M183.5 170.8V194.7M185.5 170.1V177.0M187.0 166.0V173.2M188.5 165.5V172.6M192.0 175.6V205.0M194.0 202.1V215.5M195.5 165.8V209.6M197.0 130.8V174.4M200.5 92.8V117.1M205.5 127.8V144.4M207.5 137.4V147.6M209.0 137.7V157.4M211.0 152.6V189.1M212.5 178.4V200.4M214.0 195.3V221.8M216.0 220.4V255.3M219.5 250.4V255.8M226.0 282.6V297.8M228.0 263.5V292.5M229.5 258.0V276.2M231.0 257.6V279.0M233.0 278.5V329.7M236.5 357.8V370.7M238.0 335.9V361.6M241.5 272.1V305.0M243.0 278.5V307.0M248.0 341.7V368.9M250.0 357.8V399.6M251.5 389.1V402.0M253.5 374.0V401.0M256.5 375.4V408.9M258.5 395.7V398.9M260.0 386.1V403.3M262.0 376.9V398.1M263.5 369.4V379.8M265.0 363.8V369.6M267.0 356.0V371.9M268.5 340.7V358.4M275.5 295.9V310.5M277.0 295.2V300.1M280.5 305.6V317.1M282.0 309.9V332.7M284.0 321.7V344.4M285.5 340.3V349.3M289.0 328.4V340.9M290.5 325.8V337.3M292.5 325.9V377.9M294.0 371.5V382.7M296.0 367.5V370.5M299.0 385.7V420.6M304.5 381.3V403.8M306.0 395.3V412.9M309.5 413.8V418.9M313.0 420.3V432.5M314.5 426.7V438.7M318.0 436.3V440.4M319.5 438.1V445.2M321.5 438.0V444.7M323.0 424.7V441.3M324.5 415.6V425.7M326.5 417.7V424.5M328.0 414.7V435.5M330.0 427.1V433.1M331.5 424.2V437.4M333.0 429.4V441.7M335.0 432.1V449.1M336.5 442.1V452.2M340.0 462.6V471.3M341.5 459.9V482.3M348.5 489.4V508.7M350.0 480.7V491.3M352.0 479.5V482.5M353.5 481.9V503.7M357.0 518.6V533.8M358.5 499.4V536.7M360.5 495.2V507.1M362.0 487.7V495.6M364.0 476.1V484.6M365.5 467.7V482.6M367.0 470.2V473.3M372.5 460.9V469.5M374.0 448.9V463.5M375.5 441.7V453.5M379.0 442.7V456.3M382.5 452.6V460.1M386.0 449.0V459.9M389.5 426.3V436.6M391.0 412.7V424.7M392.5 397.1V413.2M394.5 395.7V410.6M398.0 384.2V397.6M399.5 380.0V392.3M401.0 376.3V387.9M403.0 367.8V387.0M406.5 360.4V370.3M411.5 383.3V389.3M415.0 392.6V411.2M416.5 405.5V418.8M420.0 420.8V439.1M421.5 413.5V429.0M423.5 403.3V414.1M428.5 403.2V418.5M430.0 418.0V427.2M433.5 431.5V439.0M435.0 434.4V446.7M437.0 434.5V446.4M440.5 416.7V428.6M442.0 419.4V423.0M443.5 414.4V424.8M447.0 429.3V439.8M449.0 433.0V449.6M454.0 449.6V452.6M457.5 449.5V461.2M459.0 445.2V458.4M460.5 440.2V454.5M462.5 435.1V448.1M464.0 433.9V440.4M466.0 435.4V452.6M467.5 438.0V460.6M469.0 458.5V473.0M472.5 484.2V495.8M474.5 489.0V501.7M477.5 518.1V563.6M479.5 552.1V562.7M488.0 566.6V579.9M489.5 577.3V580.3M496.5 579.5V589.9M498.0 583.1V590.7M501.5 558.3V563.8M503.0 558.8V569.3M505.0 570.5V577.8M506.5 550.1V574.3M508.5 534.2V552.6M511.5 511.4V521.3M513.5 505.9V523.7M515.0 518.5V532.6M517.0 529.9V537.7M518.5 528.5V537.9M520.0 519.7V536.8M523.5 522.9V526.2M525.5 517.0V524.5M528.5 504.7V515.4M530.5 498.7V511.9M532.0 488.7V502.7M534.0 488.1V493.6M535.5 491.0V511.4M539.0 521.3V534.6M540.5 533.9V537.4M542.5 535.9V554.7M544.0 534.4V547.9M545.5 543.3V556.8M547.5 542.4V553.3M549.0 530.8V547.9M551.0 526.4V544.8M554.0 547.7V563.5M556.0 557.2V565.7M557.5 556.1V559.1M561.0 548.0V559.3M562.5 558.6V564.1M564.5 557.1V570.4M566.0 561.6V573.2M568.0 570.7V591.3M576.5 550.4V584.8M578.0 515.7V562.5M579.5 507.4V526.0M583.0 516.8V530.9M585.0 517.3V531.6M586.5 510.2V520.4M588.0 498.1V511.8M590.0 500.5V505.5M591.5 498.5V513.3M593.5 507.7V519.6M595.0 518.7V535.4M596.5 536.1V553.0M598.5 547.7V552.4M600.0 546.4V558.4M602.0 556.3V566.2M603.5 556.4V571.2M605.0 560.2V570.2M607.0 566.5V576.6M610.5 569.0V581.6M613.5 581.6V591.4M617.0 594.3V603.9M620.5 607.2V622.4M622.0 588.7V610.1M624.0 566.4V594.1M627.5 551.0V564.6M629.0 547.4V565.1M630.5 564.5V575.3M632.5 567.8V575.3M634.0 573.1V576.4M636.0 570.1V577.1M637.5 564.9V571.7M639.0 570.8V573.8M641.0 570.3V573.3M642.5 570.7V581.2M644.5 576.0V582.7M646.0 563.8V579.3M653.0 524.2V538.6M654.5 513.3V530.7M656.0 502.4V520.2M658.0 488.1V502.0M659.5 483.9V498.0M661.5 461.7V488.6M663.0 445.1V465.3M664.5 446.0V459.5M666.5 440.3V452.2M668.0 437.9V461.4M671.5 473.7V490.6M673.0 493.5V507.1M676.5 457.8V480.6M678.5 451.5V465.3M680.0 429.8V456.4M681.5 420.0V435.7M683.5 396.4V418.7M685.0 392.6V405.6M687.0 391.2V417.1M692.0 385.5V417.5M693.5 373.9V392.5M695.5 360.9V378.5M697.0 339.0V369.2M698.5 335.8V353.9M700.5 330.6V341.3M707.0 311.6V317.0M709.0 298.0V310.0M712.5 301.2V313.0M714.0 282.0V304.6M715.5 272.0V293.7M717.5 279.0V295.5M721.0 315.8V335.3M722.5 327.5V338.8M724.0 333.1V344.3M726.0 340.3V356.2M727.5 349.3V360.3M729.5 354.2V367.7M731.0 349.6V359.0M732.5 353.8V361.1M734.5 357.2V377.3M736.0 365.3V396.4M738.0 391.1V404.8M741.0 383.3V391.0M743.0 368.3V379.9M746.5 367.0V374.6M748.0 365.1V374.8M749.5 352.1V374.4M753.0 366.1V398.7M755.0 393.2V409.2M756.5 400.5V443.6M760.0 424.1V439.7M761.5 423.2V441.3M763.5 428.1V443.2M765.0 414.4V428.6M766.5 417.5V430.5M772.0 446.8V467.5M773.5 456.6V475.4M775.0 464.5V477.0M777.0 444.4V464.6M780.5 427.4V435.0M782.0 416.0V435.2M783.5 422.4V433.2M785.5 421.2V434.7M787.0 405.8V423.7M790.5 397.7V405.5M792.0 396.6V408.6M794.0 411.0V426.3M795.5 407.3V419.0M799.0 417.3V424.8M800.5 401.8V417.4M804.0 400.7V415.7M806.0 405.5V428.4M807.5 413.6V424.6M809.0 422.9V439.5M811.0 429.2V450.3M812.5 437.4V451.9M814.5 432.5V446.1M816.0 404.8V445.3M817.5 392.8V417.5M821.0 382.4V396.2M823.0 386.8V391.4M824.5 379.0V403.3M826.0 399.2V402.6M828.0 384.1V398.6M829.5 373.1V387.2M831.5 366.6V373.7M833.0 356.4V372.1M834.5 356.0V365.1M838.0 345.0V359.9" stroke="#000" stroke-width="1.4" fill="none"/>
<!-- trend lines -->
<g stroke="#000" stroke-width="1.8" fill="none" stroke-linecap="round">
<polyline points="229,370 357,536 541,607"/>
<polyline points="275.5,298.5 406,362 559,507"/>
<polyline points="763.5,414 819,375"/>
<polyline points="763.5,453.5 813,456"/>
</g>
<!-- TV logo -->
<circle cx="17.7" cy="670.3" r="14" fill="#fff" stroke="#e8e8ea" stroke-width="1"/>
<g fill="#131722">
<path d="M8.3 665.8H16V674.9H12.6V668.7H8.3Z"/>
<circle cx="19.2" cy="667.5" r="1.6"/>
<path d="M22.5 665.8H26.8L23 674.9H18.7Z"/>
</g>
<!-- dots -->
<g fill="#2196f3">
<circle cx="23.5" cy="656.5" r="3.2"/><circle cx="52" cy="642.6" r="3.2"/><circle cx="58" cy="631.6" r="3.2"/><circle cx="80" cy="621.7" r="3.2"/><circle cx="80.5" cy="610.4" r="3.2"/><circle cx="143" cy="458" r="3.2"/><circle cx="254" cy="375" r="3.2"/>
</g>
<g fill="#f9c623">
<circle cx="387" cy="441.5" r="3"/><circle cx="568" cy="565.5" r="3"/><circle cx="667.5" cy="438.6" r="3"/>
</g>
<!-- fib labels -->
<g font-size="10.5" text-anchor="end">
<text x="198" y="294" fill="#66bb6a">0.618(5103.27)</text>
<text x="198" y="357" fill="#66bb6a">0.5(4133.95)</text>
<text x="706.5" y="98.6" fill="#d6336c">1(9806.19)</text>
<text x="706.5" y="238.5" fill="#d6336c">0.618(6144.55)</text>
<text x="706.5" y="282" fill="#d6336c">0.5(5318.39)</text>
</g>
<!-- wave labels -->
<g font-size="14" fill="#131722" text-anchor="middle">
<text x="275.8" y="258">B</text>
<text x="225" y="412">A</text>
<text x="408.5" y="345">D</text>
<text x="352.5" y="575">C</text>
<text x="489" y="627">E</text>
<text x="546" y="472">F</text>
<text x="644" y="617">G</text>
<text x="719.4" y="197">A</text>
<text x="816" y="519">B</text>
<text x="983" y="230.5">C</text>
</g>
<g font-size="12" fill="#131722" text-anchor="middle">
<text x="716.7" y="241">c</text>
<text x="749" y="327">x</text>
<text x="730" y="432">w</text>
<text x="815" y="471">y</text>
</g>
<g font-size="9" fill="#131722" text-anchor="middle">
<text x="664" y="414">A</text>
<text x="691" y="455">B</text>
</g>
<g font-size="12.5" fill="#131722">
<text x="918.4" y="116.5">980-1000</text>
<text x="900" y="244.5">600-615</text>
<text x="886" y="295.5">510-530</text>
<text x="850.7" y="377">break 400-413</text>
<text x="830" y="467.5">300</text>
</g>
<!-- title -->
<text x="5" y="17" font-size="11.4" fill="#3b3e46">ذوب آهن اصفهان</text>
<text x="91.5" y="17" font-size="11" fill="#b2b5be">.</text>
<text x="97.5" y="16.3" font-size="8.6" font-weight="bold" fill="#2a2e39">1D</text>
<text x="113" y="17" font-size="11" fill="#b2b5be">.</text>
<!-- price axis -->
<g font-size="10" fill="#131722"><text x="1228.5" y="11.0">13500.00</text><text x="1228.5" y="46.6">12000.00</text><text x="1228.5" y="77.6">10800.00</text><text x="1228.5" y="113.6">9600.00</text><text x="1228.5" y="139.6">8800.00</text><text x="1228.5" y="167.6">8000.00</text><text x="1228.5" y="198.1">7250.00</text><text x="1228.5" y="230.6">6500.00</text><text x="1228.5" y="259.6">5900.00</text><text x="1228.5" y="292.0">5300.00</text><text x="1228.5" y="327.4">4700.00</text><text x="1228.5" y="383.6">3900.00</text><text x="1228.5" y="415.6">3500.00</text><text x="1228.5" y="443.6">3200.00</text><text x="1228.5" y="472.2">2900.00</text><text x="1228.5" y="505.6">2600.00</text><text x="1228.5" y="535.6">2350.00</text><text x="1228.5" y="562.6">2150.00</text><text x="1228.5" y="591.6">1950.00</text><text x="1228.5" y="620.0">1775.00</text><text x="1228.5" y="648.3">1615.00</text></g>
<rect x="1219" y="340.5" width="52" height="15" rx="1.5" fill="#000"/>
<text x="1228.5" y="351.6" font-size="10" fill="#fff">4343.00</text>
<rect x="1222" y="667" width="52" height="15.5" rx="1.5" fill="#22ab94"/>
<text x="1227" y="678.3" font-size="10.5" fill="#fff">82.893M</text>
<!-- time axis -->
<line x1="0" y1="689.5" x2="1280" y2="689.5" stroke="#e0e3eb" stroke-width="1"/>
<line x1="0" y1="713.5" x2="1280" y2="713.5" stroke="#e0e3eb" stroke-width="1"/>
<g font-size="10.5" fill="#131722" text-anchor="middle"><text x="92.0" y="704.6" font-weight="bold">1398</text><text x="166.0" y="704.6" class="fa">تیر</text><text x="288.4" y="704.6" font-weight="bold">1399</text><text x="358.5" y="704.6" class="fa">تیر</text><text x="465.5" y="704.6" font-weight="bold">1400</text><text x="540.0" y="704.6" class="fa">تیر</text><text x="657.5" y="704.6" font-weight="bold">1401</text><text x="732.4" y="704.6" class="fa">خرداد</text><text x="850.4" y="704.6" font-weight="bold">1402</text><text x="922.0" y="704.6" class="fa">خرداد</text><text x="992.6" y="704.6" class="fa">مهر</text><text x="1067.4" y="704.6" font-weight="bold">1403</text><text x="1141.8" y="704.6" class="fa">اردیبهشت</text><text x="1208.8" y="704.6" class="fa">مهر</text></g>
<!-- gear -->
<g transform="translate(1249.7,701.7)" fill="none" stroke="#131722" stroke-width="1.1">
<circle r="4.3"/>
<path d="M0 -6.5V-4.3M0 4.3V6.5M-6.5 0H-4.3M4.3 0H6.5M-4.6 -4.6L-3 -3M3 3L4.6 4.6M-4.6 4.6L-3 3M3 -3L4.6 -4.6"/>
</g>
<!-- bottom toolbar -->
<g font-size="11" fill="#131722">
<text x="11.3" y="734.5">سال</text><text x="31.8" y="734.5" font-size="10.8" textLength="8.6" lengthAdjust="spacingAndGlyphs">10</text>
<text x="51.5" y="734.5">سال</text><text x="71.3" y="734.5" font-size="10.8" textLength="4.6" lengthAdjust="spacingAndGlyphs">1</text>
<text x="88" y="734.5" font-size="10">6m</text>
<text x="115" y="734.5" font-size="10">1m</text>
<text x="140" y="734.5" font-size="10">7d</text>
<text x="164" y="734.5" font-size="10" fill="#3b6bd9">1d</text>
<text x="1042" y="734.5" font-size="10.7">09:45:35 (UTC+3:30)</text>
<text x="1170.6" y="735" font-size="13">%</text>
<text x="1195" y="734.5" fill="#4a72e0">لگاریتمی</text>
<text x="1242" y="734.5">خودکار</text>
</g>
<line x1="1156.5" y1="722" x2="1156.5" y2="740" stroke="#e0e3eb" stroke-width="1"/>
</svg>
</body></html>
